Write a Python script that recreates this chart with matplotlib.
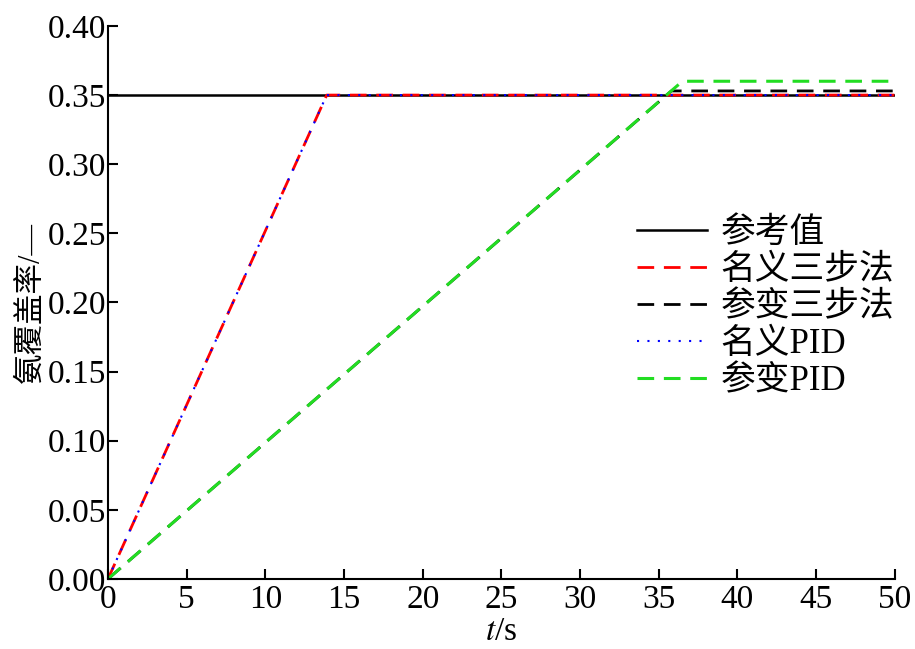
import numpy as np
import matplotlib
matplotlib.use('Agg')
import matplotlib.pyplot as plt

plt.rcParams['font.family'] = ['Liberation Serif', 'Noto Sans CJK SC']
plt.rcParams['mathtext.fontset'] = 'stix'

# data
t_ref = [0, 50]
y_ref = [0.35, 0.35]
t_nom3 = [0, 13.9, 50]
y_nom3 = [0, 0.35, 0.35]
t_var3 = [0, 35.8, 50]
y_var3 = [0, 0.353, 0.353]
t_nompid = [0, 13.9, 50]
y_nompid = [0, 0.35, 0.35]
t_varpid = [0, 36.5, 50]
y_varpid = [0, 0.36, 0.36]

xticks = [0, 5, 10, 15, 20, 25, 30, 35, 40, 45, 50]
yticks = [0.00, 0.05, 0.10, 0.15, 0.20, 0.25, 0.30, 0.35, 0.40]

fig = plt.figure(figsize=(9.15, 6.49), dpi=100)
ax = fig.add_axes([0.118, 0.108, 0.860, 0.852])

ax.plot(t_ref, y_ref, color='black', lw=1.8, label='参考值')
ax.plot(t_var3, y_var3, color='black', lw=2.0, dashes=(6, 3.5), label='参变三步法')
ax.plot(t_nom3, y_nom3, color='red', lw=2.0, dashes=(6, 3.5), label='名义三步法')
ax.plot(t_nompid, y_nompid, color='blue', lw=1.5, linestyle=(0, (1, 4)), label='名义PID')
ax.plot(t_varpid, y_varpid, color='#22dd22', lw=2.2, dashes=(5.45, 3.18), label='参变PID')

ax.set_xlim(0, 50)
ax.set_ylim(0, 0.40)
ax.set_xticks(xticks)
ax.set_yticks(yticks)
ax.set_xticklabels([str(v) for v in xticks])
ax.set_yticklabels(['%.2f' % v for v in yticks])
ax.tick_params(direction='in', length=7, width=1.5, labelsize=24, pad=1)
ax.tick_params(axis='x', pad=4)
ax.spines['top'].set_visible(False)
ax.spines['right'].set_visible(False)
ax.spines['left'].set_linewidth(1.5)
ax.spines['bottom'].set_linewidth(1.5)

ax.set_xlabel('$t$/s', fontsize=24, labelpad=1)
ax.set_ylabel('氨覆盖率/—', fontsize=22, labelpad=2)

h, l = ax.get_legend_handles_labels()
order = [0, 2, 1, 3, 4]
ax.legend([h[i] for i in order], [l[i] for i in order], loc='upper left',
          bbox_to_anchor=(0.655, 0.68), frameon=False, fontsize=25,
          handlelength=2.0, labelspacing=0.12, handletextpad=0.4,
          borderaxespad=0)

fig.savefig('out.png', dpi=100)
